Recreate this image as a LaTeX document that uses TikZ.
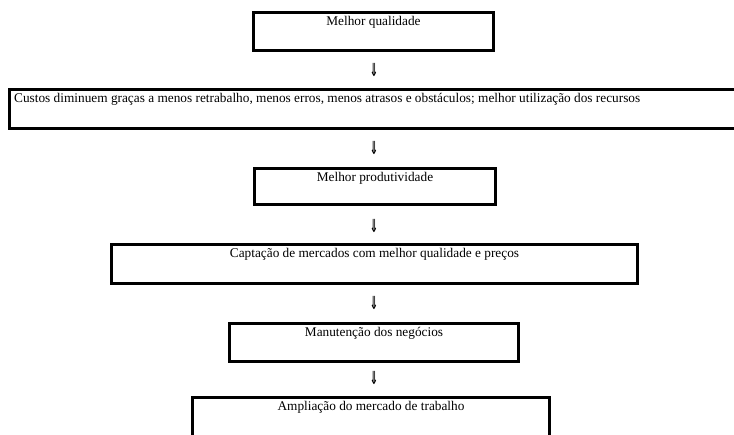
\documentclass[tikz,border=0pt]{standalone}
\usepackage{fontspec}
\setmainfont{Liberation Serif}
\newfontfamily\setafonte{DejaVu Sans}
\tikzset{
 caixa/.style={draw, line width=3pt, inner sep=0pt, anchor=north west},
 texto/.style={inner sep=0pt, anchor=base, font=\fontsize{13.3}{16}\selectfont},
 seta/.style={inner sep=0pt, xscale=0.55, transform shape, font=\setafonte\bfseries\fontsize{18}{20}\selectfont}
}
\begin{document}
\begin{tikzpicture}[x=1pt, y=-1pt]
 \useasboundingbox (0,0) rectangle (734,435);
 \clip (0,0) rectangle (734,435);

 \node[caixa, minimum width=240pt, minimum height=38pt] (qualidade) at (252,11) {};
 \node[caixa, minimum width=737pt, minimum height=39pt] (custos) at (8,88) {};
 \node[caixa, minimum width=241pt, minimum height=36pt] (produtividade) at (253,167) {};
 \node[caixa, minimum width=526pt, minimum height=39pt] (mercados) at (110,243) {};
 \node[caixa, minimum width=289pt, minimum height=38pt] (negocios) at (228,322) {};
 \node[caixa, minimum width=357pt, minimum height=46pt] (trabalho) at (191,396) {};

 \node[texto] (tqualidade) at ([yshift=-15pt]qualidade.north) {Melhor qualidade};
 \node[texto, anchor=base west] (tcustos) at ([xshift=6pt, yshift=-15pt]custos.north west) {Custos diminuem graças a menos retrabalho, menos erros, menos atrasos e obstáculos; melhor utilização dos recursos};
 \node[texto] (tprodutividade) at ([yshift=-15pt]produtividade.north) {Melhor produtividade};
 \node[texto] (tmercados) at ([yshift=-15pt]mercados.north) {Captação de mercados com melhor qualidade e preços};
 \node[texto] (tnegocios) at ([yshift=-15pt]negocios.north) {Manutenção dos negócios};
 \node[texto] (ttrabalho) at ([yshift=-15pt]trabalho.north) {Ampliação do mercado de trabalho};

 \node[seta] (s1) at (374,70) {⇓};
 \node[seta] (s2) at (374,148) {⇓};
 \node[seta] (s3) at (374,226) {⇓};
 \node[seta] (s4) at (374,303) {⇓};
 \node[seta] (s5) at (374,378) {⇓};
\end{tikzpicture}
\end{document}
